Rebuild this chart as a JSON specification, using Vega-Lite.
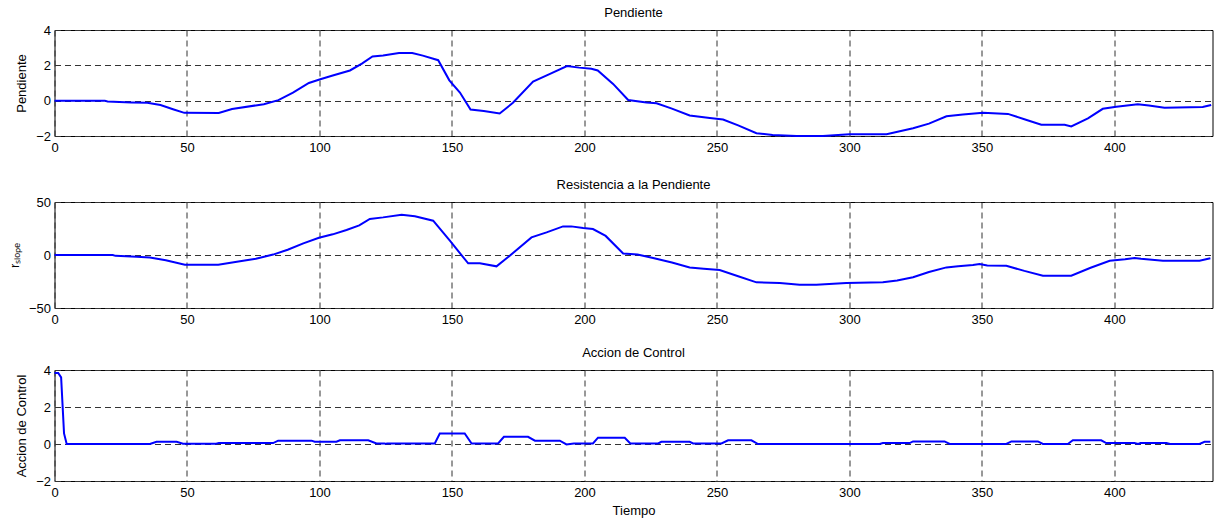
{
  "$schema": "https://vega.github.io/schema/vega-lite/v6.json",
  "padding": {"left": 7.5, "top": 6, "right": 5, "bottom": 0},
  "spacing": 19,
  "config": {
    "font": "Liberation Sans",
    "view": {"stroke": "black", "strokeWidth": 1},
    "axis": {"domain": false, "ticks": false, "labelFontSize": 13, "labelColor": "black", "labelFlush": false, "titleFontSize": 13, "titleFontWeight": "normal", "titleColor": "black", "gridColor": "#333333", "gridDash": [6, 4], "gridOpacity": 1, "gridWidth": 1, "labelPadding": 4},
    "axisX": {"labelPadding": 5, "titlePadding": 5},
    "axisY": {"titlePadding": 7},
    "title": {"fontSize": 13, "fontWeight": "normal", "color": "black", "offset": 4, "font": "Liberation Sans"},
    "line": {"color": "#0000ff", "strokeWidth": 2}
  },
  "datasets": {
    "pend": [
      {"t": 0, "v": 0}, {"t": 19, "v": 0}, {"t": 20, "v": -0.05}, {"t": 29, "v": -0.1}, {"t": 35, "v": -0.12},
      {"t": 40, "v": -0.25}, {"t": 45, "v": -0.5}, {"t": 49, "v": -0.69}, {"t": 62, "v": -0.7}, {"t": 67, "v": -0.47},
      {"t": 79, "v": -0.2}, {"t": 84.5, "v": 0.03}, {"t": 90, "v": 0.45}, {"t": 96, "v": 1.0}, {"t": 100, "v": 1.2},
      {"t": 105, "v": 1.42}, {"t": 111.5, "v": 1.71}, {"t": 116, "v": 2.1}, {"t": 120, "v": 2.5}, {"t": 124, "v": 2.56},
      {"t": 130, "v": 2.7}, {"t": 135, "v": 2.7}, {"t": 139, "v": 2.55}, {"t": 144.8, "v": 2.29}, {"t": 149, "v": 1.15},
      {"t": 153, "v": 0.46}, {"t": 157, "v": -0.5}, {"t": 162, "v": -0.59}, {"t": 168, "v": -0.73}, {"t": 173, "v": -0.12},
      {"t": 180.6, "v": 1.08}, {"t": 187, "v": 1.52}, {"t": 193.4, "v": 1.96}, {"t": 198, "v": 1.87}, {"t": 202.6, "v": 1.81},
      {"t": 205, "v": 1.71}, {"t": 210.8, "v": 0.95}, {"t": 216.5, "v": 0.04}, {"t": 223.4, "v": -0.11}, {"t": 227.2, "v": -0.15},
      {"t": 233, "v": -0.45}, {"t": 239.7, "v": -0.84}, {"t": 247.3, "v": -0.98}, {"t": 252.3, "v": -1.07}, {"t": 258, "v": -1.4},
      {"t": 264.9, "v": -1.84}, {"t": 271, "v": -1.94}, {"t": 280, "v": -2.0}, {"t": 290, "v": -2.0}, {"t": 300, "v": -1.9},
      {"t": 314, "v": -1.9}, {"t": 324, "v": -1.56}, {"t": 330, "v": -1.3}, {"t": 336.6, "v": -0.88}, {"t": 342.8, "v": -0.78},
      {"t": 350.4, "v": -0.69}, {"t": 359.8, "v": -0.75}, {"t": 366, "v": -1.05}, {"t": 372.4, "v": -1.36}, {"t": 381.2, "v": -1.36},
      {"t": 383.7, "v": -1.46}, {"t": 390, "v": -1.0}, {"t": 395.6, "v": -0.46}, {"t": 400.7, "v": -0.35}, {"t": 408.8, "v": -0.21},
      {"t": 413, "v": -0.28}, {"t": 418.9, "v": -0.4}, {"t": 433.3, "v": -0.36}, {"t": 436.5, "v": -0.25}
    ],
    "rs": [
      {"t": 0, "v": 0}, {"t": 22, "v": 0}, {"t": 23, "v": -0.8}, {"t": 31, "v": -1.6}, {"t": 36, "v": -2.3},
      {"t": 42, "v": -5}, {"t": 49.2, "v": -9.2}, {"t": 61.8, "v": -9.2}, {"t": 70, "v": -6}, {"t": 76, "v": -3.5},
      {"t": 82.5, "v": 0.4}, {"t": 88, "v": 5}, {"t": 93.9, "v": 11}, {"t": 99.8, "v": 16.3}, {"t": 105, "v": 19.5},
      {"t": 110.2, "v": 23.6}, {"t": 115, "v": 28}, {"t": 119, "v": 34}, {"t": 124, "v": 35.5}, {"t": 131, "v": 38},
      {"t": 136, "v": 36.5}, {"t": 142.9, "v": 32.4}, {"t": 149.2, "v": 13.5}, {"t": 156.1, "v": -7.9}, {"t": 160.5, "v": -7.9},
      {"t": 166.8, "v": -10.7}, {"t": 171.8, "v": -0.7}, {"t": 180, "v": 16.6}, {"t": 185.7, "v": 21.3}, {"t": 191.9, "v": 27},
      {"t": 195, "v": 27}, {"t": 199.5, "v": 25.4}, {"t": 203.2, "v": 24.5}, {"t": 208, "v": 18}, {"t": 214.6, "v": 1.5},
      {"t": 220, "v": 0.5}, {"t": 225.9, "v": -2.8}, {"t": 233, "v": -7}, {"t": 239.7, "v": -11.7}, {"t": 245, "v": -13},
      {"t": 251, "v": -14.2}, {"t": 258, "v": -20}, {"t": 264.9, "v": -25.8}, {"t": 273.7, "v": -26.4}, {"t": 281.2, "v": -28},
      {"t": 287.5, "v": -28}, {"t": 298.8, "v": -26.4}, {"t": 312.6, "v": -25.8}, {"t": 318, "v": -24}, {"t": 324, "v": -21},
      {"t": 330, "v": -16}, {"t": 336.6, "v": -11.7}, {"t": 341, "v": -10.6}, {"t": 346.6, "v": -9.4}, {"t": 349.1, "v": -8.5},
      {"t": 352, "v": -10}, {"t": 359.2, "v": -10.2}, {"t": 366, "v": -15}, {"t": 373, "v": -19.5}, {"t": 383.7, "v": -19.5},
      {"t": 391, "v": -12}, {"t": 398.2, "v": -5.4}, {"t": 404, "v": -4}, {"t": 407.6, "v": -2.8}, {"t": 410, "v": -3.5},
      {"t": 418.3, "v": -5.4}, {"t": 432.1, "v": -5.4}, {"t": 436.2, "v": -3.1}
    ],
    "acc": [
      {"t": 0, "v": 3.84}, {"t": 1.4, "v": 3.84}, {"t": 2.5, "v": 3.6}, {"t": 3.6, "v": 0.57}, {"t": 4.6, "v": 0},
      {"t": 36, "v": 0}, {"t": 38.5, "v": 0.12}, {"t": 46.1, "v": 0.12}, {"t": 48.5, "v": 0.02}, {"t": 61, "v": 0.02},
      {"t": 62, "v": 0.05}, {"t": 82.5, "v": 0.05}, {"t": 84.4, "v": 0.18}, {"t": 97, "v": 0.18}, {"t": 98.2, "v": 0.12},
      {"t": 106.4, "v": 0.12}, {"t": 107.7, "v": 0.2}, {"t": 118.4, "v": 0.2}, {"t": 121.5, "v": 0.03}, {"t": 124.5, "v": 0.03},
      {"t": 125, "v": 0}, {"t": 125.5, "v": 0.03}, {"t": 143.5, "v": 0.03}, {"t": 145.4, "v": 0.57}, {"t": 154.8, "v": 0.57},
      {"t": 157.4, "v": 0.03}, {"t": 167.4, "v": 0.03}, {"t": 169.6, "v": 0.39}, {"t": 178.7, "v": 0.39}, {"t": 181.3, "v": 0.18},
      {"t": 190.7, "v": 0.18}, {"t": 193.2, "v": -0.02}, {"t": 196, "v": 0.03}, {"t": 203.2, "v": 0.03}, {"t": 205.1, "v": 0.34},
      {"t": 215.2, "v": 0.34}, {"t": 217.3, "v": 0.03}, {"t": 227.8, "v": 0.03}, {"t": 229, "v": 0.12}, {"t": 239.7, "v": 0.12},
      {"t": 241, "v": 0.03}, {"t": 251.7, "v": 0.03}, {"t": 254.2, "v": 0.2}, {"t": 263, "v": 0.2}, {"t": 265.5, "v": 0},
      {"t": 311.4, "v": 0}, {"t": 312.6, "v": 0.05}, {"t": 322.7, "v": 0.05}, {"t": 324, "v": 0.14}, {"t": 335.9, "v": 0.14},
      {"t": 337.8, "v": 0}, {"t": 359.2, "v": 0}, {"t": 361.1, "v": 0.14}, {"t": 371.1, "v": 0.14}, {"t": 373, "v": 0},
      {"t": 382.4, "v": 0}, {"t": 384.3, "v": 0.2}, {"t": 395, "v": 0.2}, {"t": 396.9, "v": 0.05}, {"t": 407.5, "v": 0.05},
      {"t": 409, "v": 0}, {"t": 409.8, "v": 0.05}, {"t": 419.6, "v": 0.05}, {"t": 421, "v": 0}, {"t": 432.1, "v": 0},
      {"t": 434, "v": 0.12}, {"t": 436.2, "v": 0.12}
    ]
  },
  "vconcat": [
    {
      "spacing": 23,
      "vconcat": [
        {
          "title": "Pendiente",
          "width": 1158,
          "height": 106,
          "data": {"name": "pend"},
          "mark": {"type": "line"},
          "encoding": {
            "x": {"field": "t", "type": "quantitative", "scale": {"domain": [0, 437], "nice": false, "zero": false}, "axis": {"values": [0, 50, 100, 150, 200, 250, 300, 350, 400], "title": null}},
            "y": {"field": "v", "type": "quantitative", "scale": {"domain": [-2, 4], "nice": false, "zero": false}, "axis": {"values": [-2, 0, 2, 4], "title": "Pendiente"}}
          }
        },
        {
          "title": "Resistencia a la Pendiente",
          "width": 1158,
          "height": 106,
          "data": {"name": "rs"},
          "mark": {"type": "line"},
          "encoding": {
            "x": {"field": "t", "type": "quantitative", "scale": {"domain": [0, 437], "nice": false, "zero": false}, "axis": {"values": [0, 50, 100, 150, 200, 250, 300, 350, 400], "title": null}},
            "y": {"field": "v", "type": "quantitative", "scale": {"domain": [-50, 50], "nice": false, "zero": false}, "axis": {"values": [-50, 0, 50], "title": "rₛₗₒₚₑ"}}
          }
        }
      ]
    },
    {
      "title": "Accion de Control",
      "width": 1158,
      "height": 111,
      "data": {"name": "acc"},
      "mark": {"type": "line"},
      "encoding": {
        "x": {"field": "t", "type": "quantitative", "scale": {"domain": [0, 437], "nice": false, "zero": false}, "axis": {"values": [0, 50, 100, 150, 200, 250, 300, 350, 400], "title": "Tiempo"}},
        "y": {"field": "v", "type": "quantitative", "scale": {"domain": [-2, 4], "nice": false, "zero": false}, "axis": {"values": [-2, 0, 2, 4], "title": "Accion de Control"}}
      }
    }
  ]
}
